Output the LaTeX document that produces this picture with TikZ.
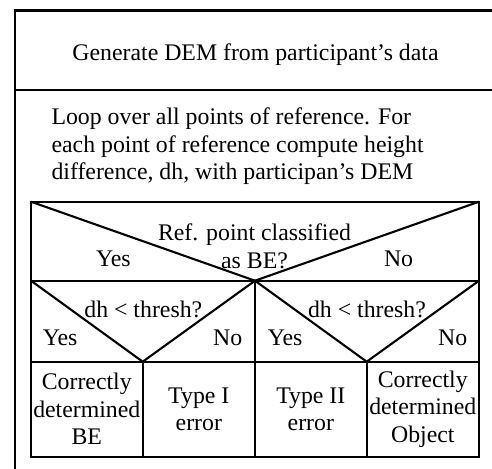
\documentclass[tikz,border=0pt]{standalone}
\usepackage{fontspec}
\setmainfont{Liberation Serif}
\begin{document}
\begin{tikzpicture}[x=1pt,y=-1pt,line width=2.1pt,
  txt/.style={inner sep=0pt,font=\fontsize{23.8}{27.5}\selectfont},
  ctxt/.style={txt,align=center},
  ltxt/.style={txt,align=left}]
\useasboundingbox (0,0) rectangle (492,468);

% outer frame (runs off the right and bottom edges)
\coordinate (fTL) at (15,10.5);
\coordinate (fTR) at (500,10.5);
\coordinate (fBL) at (15,480);
\coordinate (dL) at (15,90);
\coordinate (dR) at (500,90);
\draw (fBL) -- (fTL) -- (fTR);
\draw (dL) -- (dR);

\node[txt,anchor=base] (title) at (255.5,61) {Generate DEM from participant’s data};
\node[ltxt,anchor=north west] (loop) at (50.5,107)
  {Loop over all points of reference. For\\
   each point of reference compute height\\
   difference, dh, with participan’s DEM};

% Nassi-Shneiderman block
\coordinate (tl) at (31,201.7);
\coordinate (tr) at (479,201.7);
\coordinate (bl) at (31,456.7);
\coordinate (br) at (479,456.7);
\coordinate (r1l) at (31,280.7);
\coordinate (r1m) at (255,280.7);
\coordinate (r1r) at (479,280.7);
\coordinate (r2l) at (31,361.7);
\coordinate (r2a) at (142.7,361.7);
\coordinate (r2m) at (255,361.7);
\coordinate (r2b) at (366.7,361.7);
\coordinate (r2r) at (479,361.7);
\coordinate (bm) at (255,456.7);
\coordinate (ba) at (142.7,456.7);
\coordinate (bb) at (366.7,456.7);

\draw (tl) rectangle (br);
\draw (r1l) -- (r1r);
\draw (r2l) -- (r2r);
\draw (tl) -- (r1m) -- (tr);
\draw (r1m) -- (bm);
\draw (r1l) -- (r2a) -- (r1m) -- (r2b) -- (r1r);
\draw (r2a) -- (ba);
\draw (r2b) -- (bb);

\node[ctxt,anchor=north] (cond) at (254.5,223) {Ref. point classified\\as BE?};
\node[txt,anchor=base west] (y1) at (95,266) {Yes};
\node[txt,anchor=base west] (n1) at (383,266) {No};

\node[txt,anchor=base] (condL) at (143.3,317) {dh < thresh?};
\node[txt,anchor=base west] (yL) at (41.7,345.7) {Yes};
\node[txt,anchor=base east] (nL) at (243.3,345.7) {No};

\node[txt,anchor=base] (condR) at (367,317) {dh < thresh?};
\node[txt,anchor=base west] (yR) at (266.7,345.7) {Yes};
\node[txt,anchor=base east] (nR) at (468.3,345.7) {No};

\node[ctxt] (c1) at (86.8,409.2) {Correctly\\determined\\BE};
\node[ctxt] (c2) at (198.8,409.2) {Type I\\error};
\node[ctxt] (c3) at (310.8,409.2) {Type II\\error};
\node[ctxt] (c4) at (422.8,409.2) {Correctly\\determined\\Object};
\end{tikzpicture}
\end{document}
